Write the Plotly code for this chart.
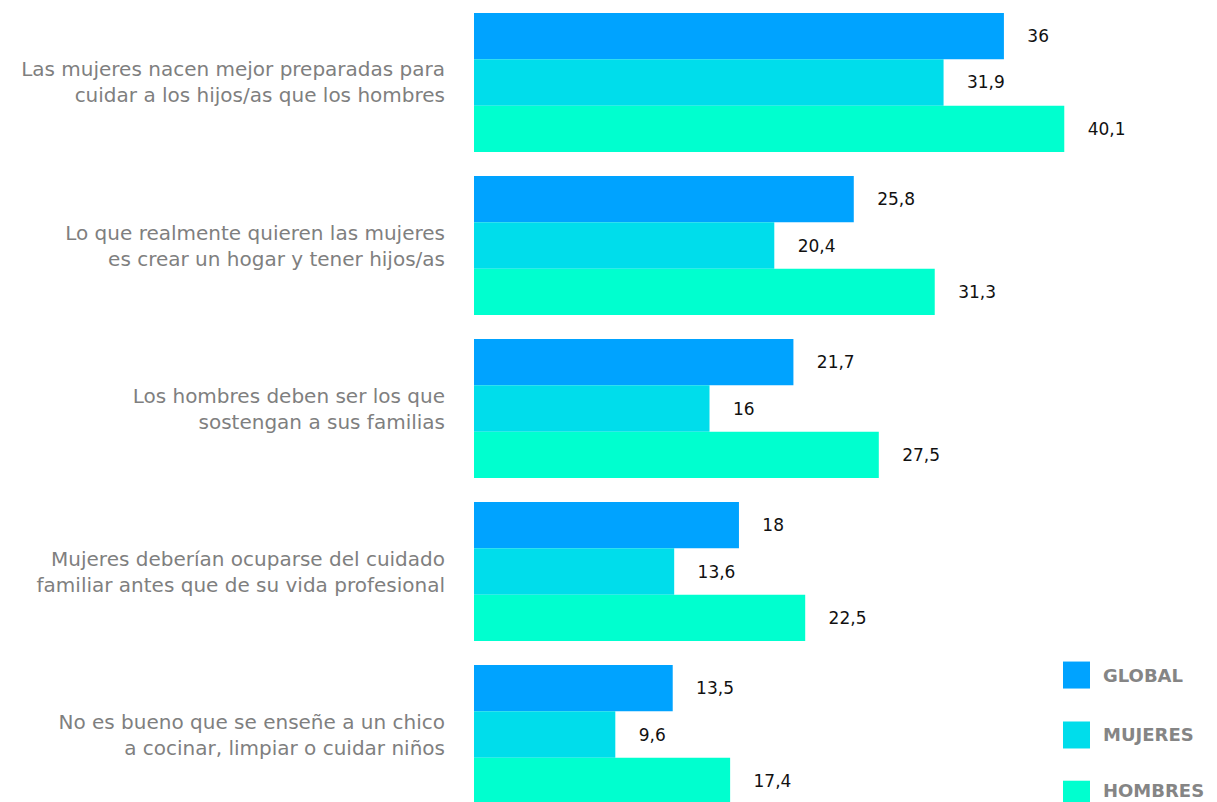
import plotly.graph_objects as go

# Data
categories = [
    "Las mujeres nacen mejor preparadas para<br>cuidar a los hijos/as que los hombres",
    "Lo que realmente quieren las mujeres<br>es crear un hogar y tener hijos/as",
    "Los hombres deben ser los que<br>sostengan a sus familias",
    "Mujeres deberían ocuparse del cuidado<br>familiar antes que de su vida profesional",
    "No es bueno que se enseñe a un chico<br>a cocinar, limpiar o cuidar niños",
]
global_vals = [36, 25.8, 21.7, 18, 13.5]
mujeres_vals = [31.9, 20.4, 16, 13.6, 9.6]
hombres_vals = [40.1, 31.3, 27.5, 22.5, 17.4]

series_names = ["GLOBAL", "MUJERES", "HOMBRES"]
series_values = [global_vals, mujeres_vals, hombres_vals]
series_colors = ["#00A3FF", "#00DDEB", "#00FFCF"]

FONT = "DejaVu Sans"


def fmt(v):
    # decimal comma, pushed away from the bar end
    return "\u2003\u2009" + f"{v:g}".replace(".", ",")


fig = go.Figure()
for name, vals, color in zip(series_names, series_values, series_colors):
    fig.add_trace(go.Bar(
        y=categories,
        x=vals,
        name=name,
        orientation="h",
        marker=dict(color=color, line=dict(width=0)),
        text=[fmt(v) for v in vals],
        textposition="outside",
        textfont=dict(family=FONT, size=17, color="#111111"),
        cliponaxis=False,
        showlegend=False,
    ))

# custom legend with big square swatches
legend_y = [0.1599, 0.0844, 0.0098]
text_shift = [0, 0, 4]  # keep last label inside the page
for name, color, ly, sh in zip(series_names, series_colors, legend_y, text_shift):
    fig.add_shape(
        type="rect", xref="paper", yref="paper",
        xsizemode="pixel", ysizemode="pixel",
        xanchor=0.8186, yanchor=ly,
        x0=-13.5, x1=13.5, y0=-13.5, y1=13.5,
        fillcolor=color, line=dict(width=0),
    )
    fig.add_annotation(
        xref="paper", yref="paper", x=0.8525, y=ly, yshift=sh,
        xanchor="left", yanchor="middle", showarrow=False,
        text=f"<b>{name}</b>",
        font=dict(family=FONT, size=18, color="#858585"),
    )

# page body has an 8px margin, so the figure is 8px smaller than the window
fig.update_layout(
    width=1209, height=794,
    margin=dict(l=466, r=7, t=0, b=0),
    paper_bgcolor="white", plot_bgcolor="white",
    barmode="group", bargap=0.147, bargroupgap=0,
    xaxis=dict(range=[0, 50], visible=False, fixedrange=True),
    yaxis=dict(
        range=[4.414, -0.457],
        showgrid=False, zeroline=False, showline=False, ticks="",
        ticklabelstandoff=28,
        tickfont=dict(family=FONT, size=20, color="#7f7f7f"),
    ),
)

fig.write_html("out.html")
